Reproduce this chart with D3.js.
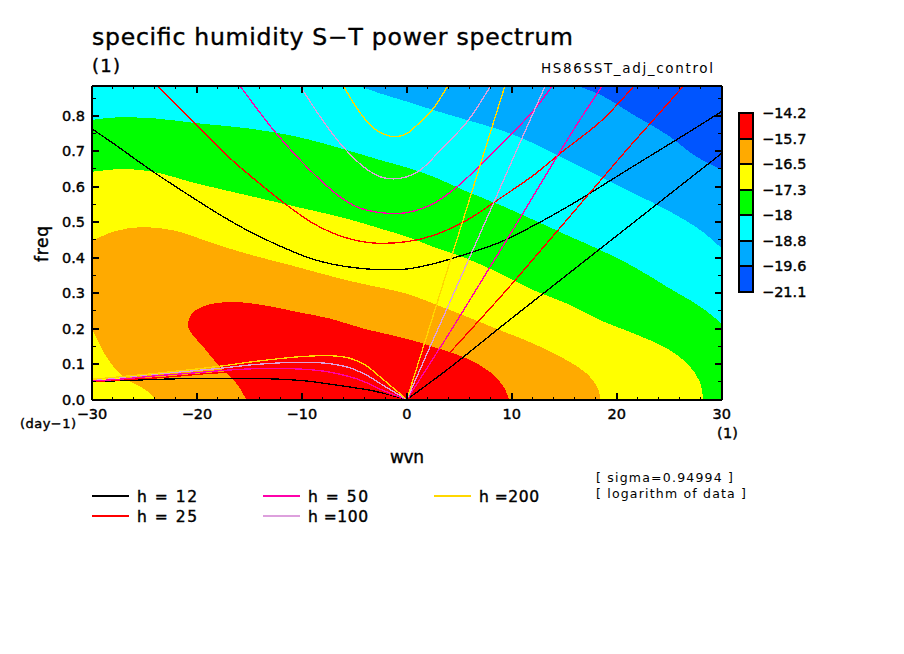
<!DOCTYPE html>
<html>
<head>
<meta charset="utf-8">
<title>specific humidity S-T power spectrum</title>
<script src="https://cdn.jsdelivr.net/npm/d3@7"></script>
<style>
body { margin: 0; background: #fff; }
svg { display: block; }
text { font-family: "DejaVu Sans", sans-serif; fill: #000; }
</style>
</head>
<body>
<svg id="chart" width="904" height="654"></svg>
<script>
// contour band edges, [wvn, freq]
const edgeLightBlue = [[16.24,.884],[18.46,.859],[21.64,.802],[24.83,.746],[27.37,.689],[30,.647]];
const edgeCyan = [[-4.6,.884],[-2.53,.863],[0,.840],[2.56,.816],[5.74,.788],[8.92,.760],[12.1,.722],[15.28,.675],[18.46,.628],[21.64,.581],[24.83,.534],[28,.477],[30,.426]];
const edgeGreen = [[-30,.788],[-27.97,.795],[-24.16,.793],[-20.02,.779],[-15.25,.765],[-10.48,.741],[-5.71,.703],[-2.53,.675],[0,.654],[2.56,.628],[5.74,.586],[8.92,.548],[12.1,.506],[15.28,.463],[18.46,.421],[21.64,.374],[24.83,.317],[28,.261],[30,.214]];
const edgeYellow = [[-30,.642],[-27.02,.650],[-24.16,.642],[-20.02,.609],[-15.25,.576],[-10.48,.543],[-5.71,.510],[-2.53,.482],[0,.459],[2.56,.430],[5.74,.397],[8.92,.355],[12.1,.308],[15.28,.270],[18.46,.223],[21.64,.186],[24.83,.143],[26.73,.101],[27.85,.054],[28.26,0]];
const edgeOrange = [[-30,.447],[-27.97,.473],[-25.43,.486],[-22.25,.477],[-18.43,.440],[-15.25,.411],[-10.48,.374],[-5.71,.336],[0,.298],[2.56,.270],[5.74,.233],[8.92,.195],[12.1,.157],[15.28,.110],[17.19,.072],[18.15,.035],[18.46,0]];
const cornerYellow = [[-30,.200],[-28.6,.119],[-27.02,.063],[-24.79,.025],[-23.9,0]];
const edgeRed = [[-15.31,0],[-16.2,.044],[-17.79,.091],[-19.39,.148],[-20.5,.186],[-20.88,.209],[-20.5,.242],[-19.39,.263],[-16.84,.275],[-13.66,.266],[-10.48,.247],[-7.3,.228],[-4.12,.200],[0,.171],[2.56,.148],[5.74,.115],[7.97,.077],[9.24,.035],[9.72,0]];

// dispersion curves: gravity wave, Kelvin wave, low frequency branch
const grav12 = [[-30,.763],[-27.97,.722],[-24.16,.642],[-20.02,.562],[-17.48,.515],[-14.61,.468],[-10.8,.416],[-8.89,.395],[-7,.381],[-5.07,.372],[-2.53,.366],[0,.368],[2.56,.383],[5.74,.411],[8.92,.444],[13.06,.506],[16.87,.571],[19.74,.624],[23.24,.688],[25.78,.734],[30,.812]];
const kelvin12 = [[0,0],[4.15,.091],[8.92,.204],[12.74,.293],[18.46,.426],[23.24,.537],[26.42,.611],[30,.694]];
const low12 = [[-30,.050],[-26.54,.054],[-23.52,.057],[-20.66,.059],[-17.48,.059],[-12.71,.058],[-9.53,.052],[-6.34,.039],[-3.16,.024],[0,0]];
const grav25 = [[-23.78,.884],[-20.34,.783],[-16.84,.680],[-13.66,.600],[-11.43,.548],[-8.89,.496],[-6.03,.458],[-3.48,.442],[0,.445],[2.56,.463],[5.74,.506],[8.92,.568],[12.1,.633],[14.65,.695],[18.46,.784],[21.64,.884]];
const kelvin25 = [[0,0],[4.15,.134],[7.97,.258],[10.19,.332],[12.74,.420],[14.65,.486],[17.19,.574],[18.46,.618],[21.01,.706],[23.24,.780],[26.35,.884]];
const low25 = [[-30,.050],[-27.02,.056],[-23.84,.061],[-20.66,.069],[-18.11,.075],[-14.3,.077],[-11.12,.074],[-7.94,.068],[-4.75,.044],[0,0]];
const grav50 = [[-15.89,.884],[-12.71,.760],[-10.48,.685],[-8.25,.619],[-6.35,.571],[-4.75,.543],[-2.53,.527],[0,.527],[2.56,.553],[4.79,.600],[7.01,.661],[9.56,.736],[12.1,.816],[13.85,.884]];
const kelvin50 = [[0,0],[2.56,.118],[4.15,.192],[5.74,.268],[7.81,.368],[9.56,.452],[12.1,.576],[14.33,.686],[16.56,.792],[18.62,.884]];
const low50 = [[-30,.052],[-27.02,.058],[-23.84,.067],[-20.66,.074],[-17.48,.082],[-14.3,.087],[-11.12,.087],[-7.94,.080],[-4.75,.058],[-2.21,.025],[0,0]];
const grav100 = [[-10.16,.884],[-8.25,.797],[-6.35,.722],[-4.12,.656],[-2.53,.628],[-1.26,.622],[0,.628],[1.29,.647],[3.51,.713],[5.74,.783],[7.97,.884]];
const kelvin100 = [[0,0],[2.56,.172],[4.15,.278],[6.06,.406],[8.29,.556],[10.51,.706],[13.18,.884]];
const low100 = [[-30,.056],[-27.02,.063],[-23.84,.072],[-20.66,.080],[-17.48,.089],[-14.3,.099],[-10.16,.105],[-7.3,.101],[-5.5,.090],[-3.8,.068],[-2.21,.039],[0,0]];
const grav200 = [[-6.03,.884],[-4.75,.821],[-3.16,.765],[-1.26,.741],[0,.750],[.97,.774],[2.4,.816],[3.9,.884]];
const kelvin200 = [[0,0],[1.61,.152],[3.51,.332],[5.42,.512],[7.01,.663],[9.34,.884]];
const low200 = [[-30,.057],[-27.02,.065],[-23.84,.074],[-20.66,.084],[-17.48,.095],[-14.3,.108],[-9.53,.122],[-7,.123],[-5.5,.117],[-4,.098],[-2.53,.063],[-1,.025],[0,0]];

const fillBase = "#0055ff";
const bandColors = ["#00aaff", "#00ffff", "#00ff00", "#ffff00", "#ffaa00", "#ff0000"];
const barLabels = ["-14.2", "-15.7", "-16.5", "-17.3", "-18", "-18.8", "-19.6", "-21.1"];
const barColors = ["#ff0000", "#ffaa00", "#ffff00", "#00ff00", "#00ffff", "#00aaff", "#0055ff"];
const legendNames = ["h = 12", "h = 25", "h = 50", "h =100", "h =200"];
const lineColors = ["#000000", "#ff0000", "#ff00aa", "#dda0dd", "#ffd700"];
const xMajor = [-30, -20, -10, 0, 10, 20, 30];
const yMajor = [0, .1, .2, .3, .4, .5, .6, .7, .8];

const svg = d3.select("#chart");
const minus = s => String(s).replace("-", "\u2212");

const x = d3.scaleLinear().domain([-30, 30]).range([92, 721.7]);
const y = d3.scaleLinear().domain([0, .884]).range([399.5, 86]);
const line = d3.line().x(d => x(d[0])).y(d => y(d[1])).curve(d3.curveCatmullRom);
const tl = [x(-30), y(.884)], tr = [x(30), y(.884)], bl = [x(-30), y(0)], br = [x(30), y(0)];
const pt = p => "L" + p[0] + "," + p[1];

// fills, painted from the outside band inward
const plot = svg.append("g").attr("shape-rendering", "crispEdges");
plot.append("rect").attr("x", x(-30)).attr("y", y(.884))
  .attr("width", x(30) - x(-30)).attr("height", y(0) - y(.884)).attr("fill", fillBase);

const bandPaths = [
  line(edgeLightBlue) + pt(br) + pt(bl) + pt(tl) + "Z",
  line(edgeCyan) + pt(br) + pt(bl) + pt(tl) + "Z",
  line(edgeGreen) + pt(br) + pt(bl) + "Z",
  line(edgeYellow) + pt(bl) + "Z",
  line(edgeOrange) + line(cornerYellow.slice().reverse()).replace("M", "L") + "Z",
  line(edgeRed) + "Z"
];
plot.selectAll("path.band").data(bandPaths).join("path")
  .attr("class", "band").attr("d", d => d).attr("fill", (d, i) => bandColors[i]);

// curves
const curveSets = [
  [grav12, kelvin12, low12],
  [grav25, kelvin25, low25],
  [grav50, kelvin50, low50],
  [grav100, kelvin100, low100],
  [grav200, kelvin200, low200]
];
curveSets.forEach((set, i) => {
  plot.selectAll("path.c" + i).data(set).join("path")
    .attr("class", "c" + i).attr("d", line).attr("fill", "none")
    .attr("stroke", lineColors[i]).attr("stroke-width", 1.3);
});

// axes, ticks point inward on all sides
function drawAxis(axis, vals, len, tx, ty, labels) {
  const g = svg.append("g").attr("transform", `translate(${tx},${ty})`)
    .attr("shape-rendering", "crispEdges");
  g.call(axis.tickValues(vals).tickSizeInner(len).tickSizeOuter(0).tickPadding(0).offset(0)
    .tickFormat(labels ? labels : ""));
  g.selectAll("path").attr("stroke", "#000").attr("stroke-width", 2);
  g.selectAll("line").attr("stroke", "#000").attr("stroke-width", 2);
  g.selectAll("text").attr("font-size", 14.5).attr("stroke", "#000").attr("stroke-width", .4)
    .attr("font-family", '"DejaVu Sans", sans-serif');
  return g;
}
const xMinor = d3.range(-30, 31, 2);
const yMinor = d3.range(0, .89, .05);
drawAxis(d3.axisBottom(x), xMinor, -3, 0, y(0)).selectAll("line").attr("stroke-width", 1);
drawAxis(d3.axisTop(x), xMinor, -3, 0, y(.884)).selectAll("line").attr("stroke-width", 1);
drawAxis(d3.axisLeft(y), yMinor, -4, x(-30), 0).selectAll("line").attr("stroke-width", 1);
drawAxis(d3.axisRight(y), yMinor, -4, x(30), 0).selectAll("line").attr("stroke-width", 1);

const xAx = drawAxis(d3.axisBottom(x), xMajor, -7, 0, y(0), minus);
xAx.selectAll("text").attr("y", 19.5).attr("dy", 0);
drawAxis(d3.axisTop(x), xMajor, -7, 0, y(.884));
const yAx = drawAxis(d3.axisLeft(y), yMajor, -7, x(-30), 0, d3.format(".1f"));
yAx.selectAll("text").attr("x", -7).attr("dy", "0.36em");
drawAxis(d3.axisRight(y), yMajor, -7, x(30), 0);

// text
function label(str, px, py, size, opts) {
  opts = opts || {};
  const t = svg.append("text").attr("x", px).attr("y", py).attr("font-size", size).text(str);
  if (opts.width) t.attr("textLength", opts.width).attr("lengthAdjust", "spacing");
  if (opts.heavy) t.attr("stroke", "#000").attr("stroke-width", opts.heavy);
  return t;
}
label("specific humidity S\u2212T power spectrum", 92, 45, 23.5, { width: 481, heavy: .4 });
label("(1)", 92, 72, 18, { width: 28, heavy: .4 });
label("HS86SST_adj_control", 541, 73, 13.5, { width: 172 });
label("(day\u22121)", 20, 428, 13, { width: 56, heavy: .4 });
label("(1)", 717, 438, 14.5, { width: 21, heavy: .4 });
label("wvn", 390, 463, 17, { width: 34, heavy: .4 });
label("freq", 0, 0, 17, { width: 36, heavy: .4 }).attr("transform", "translate(48,262) rotate(-90)");
label("[ sigma=0.94994 ]", 596, 482, 12.5, { width: 137 });
label("[ logarithm of data ]", 596, 498, 12.5, { width: 150 });

// legend
const legendX = d3.scalePoint().domain([0, 1, 2]).range([92, 434]);
const legendSpots = [[0, 0], [0, 1], [1, 0], [1, 1], [2, 0]];
legendNames.forEach((name, i) => {
  const lx = legendX(legendSpots[i][0]);
  const ly = 496 + legendSpots[i][1] * 20;
  svg.append("line").attr("x1", lx).attr("x2", lx + 37).attr("y1", ly).attr("y2", ly)
    .attr("stroke", lineColors[i]).attr("stroke-width", 2).attr("shape-rendering", "crispEdges");
  label(name, lx + 45, ly + 6, 15.5, { width: 60, heavy: .4 });
});

// colour bar
const barY = d3.scaleBand().domain(d3.range(barColors.length)).range([113, 292]);
svg.append("g").attr("shape-rendering", "crispEdges").selectAll("rect").data(barColors).join("rect")
  .attr("x", 739).attr("width", 14)
  .attr("y", (d, i) => barY(i)).attr("height", barY.bandwidth())
  .attr("fill", d => d).attr("stroke", "#000").attr("stroke-width", 2);
const barTick = d3.scaleLinear().domain([0, barLabels.length - 1]).range([113, 292]);
barLabels.forEach((s, i) => {
  label(minus(s), 762, barTick(i) + 5, 14.5, { heavy: .4 });
});
</script>
</body>
</html>
